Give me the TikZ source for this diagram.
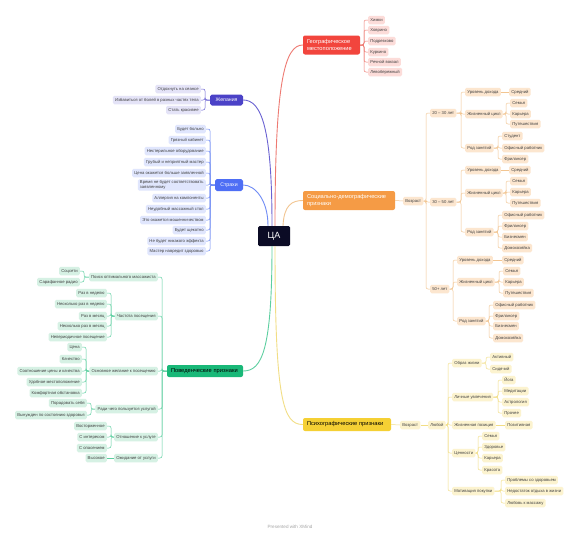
\documentclass[tikz,border=0pt]{standalone}
\usepackage{fontspec}
\setmainfont{Liberation Sans}
\usetikzlibrary{calc}
\definecolor{redM}{HTML}{F2453D}\definecolor{redL}{HTML}{FCDCD9}\definecolor{redC}{HTML}{EE7A72}
\definecolor{indM}{HTML}{4B42C7}\definecolor{indL}{HTML}{E4E3F7}\definecolor{indC}{HTML}{6A62D2}
\definecolor{bluM}{HTML}{4E6EF5}\definecolor{bluL}{HTML}{E0E6FD}\definecolor{bluC}{HTML}{6F8BF5}
\definecolor{oraM}{HTML}{F59B45}\definecolor{oraL}{HTML}{FCE6CF}\definecolor{oraC}{HTML}{F2C591}
\definecolor{grnM}{HTML}{19B878}\definecolor{grnL}{HTML}{D6F1E4}\definecolor{grnC}{HTML}{5DCFA0}
\definecolor{yelM}{HTML}{F5D034}\definecolor{yelL}{HTML}{FCF3CF}\definecolor{yelC}{HTML}{F2DE85}
\definecolor{caM}{HTML}{0B0B25}
\begin{document}
\begin{tikzpicture}[x=1pt,y=-1pt,
  leaf/.style={rounded corners=1.5pt, inner xsep=2.2pt, inner ysep=0pt, minimum height=8.5pt, font=\fontsize{4.2}{5}\selectfont, text=black!75},
  rl/.style={leaf, fill=redL}, il/.style={leaf, fill=indL}, bl/.style={leaf, fill=bluL},
  ol/.style={leaf, fill=oraL}, gl/.style={leaf, fill=grnL}, yl/.style={leaf, fill=yelL},
  mainbox/.style={rounded corners=2pt, font=\fontsize{5.7}{6.9}\selectfont, inner xsep=4pt, inner ysep=0pt, align=left},
  lvl/.style={rounded corners=1.8pt, font=\fontsize{5.2}{6}\selectfont, text=white, inner sep=0pt},
  cn/.style={line width=0.5pt, rounded corners=2pt},
  rc/.style={cn, draw=redC}, ic/.style={cn, draw=indC}, bc/.style={cn, draw=bluC},
  oc/.style={cn, draw=oraC}, gc/.style={cn, draw=grnC}, yc/.style={cn, draw=yelC},
  curve/.style={line width=0.9pt}]
\useasboundingbox[fill=white] (0,0) rectangle (577,541);

% central
\node[fill=caM, text=white, rounded corners=1.5pt, minimum width=32pt, minimum height=20pt, inner sep=0pt, font=\fontsize{9}{10}\selectfont] (ca) at (274,236) {ЦА};

% main branches
\node[mainbox, fill=redM, text=white, text width=49pt, minimum height=19pt] (geo) at (331.5,45) {Географическое\\местоположение};
\node[lvl, fill=indM, minimum width=33pt, minimum height=11pt] (wish) at (226.5,100) {Желания};
\node[lvl, fill=bluM, minimum width=28pt, minimum height=12pt] (fear) at (229,185) {Страхи};
\node[mainbox, fill=oraM, text=white, text width=84pt, minimum height=19pt] (soc) at (349,200.5) {Социально-демографические\\признаки};
\node[mainbox, fill=grnM, text=black, text width=68pt, minimum height=12pt] (beh) at (205,371) {Поведенческие признаки};
\node[mainbox, fill=yelM, text=black, text width=80pt, minimum height=13pt] (psy) at (347,424.5) {Психографические признаки};

% main curves
\draw[curve, draw=redC] ($(ca.north)+(1,0)$) .. controls (275,80) and (285,45) .. (geo.west);
\draw[curve, draw=indC] ($(ca.north)+(-2,0)$) .. controls (272,130) and (262,100) .. (wish.east);
\draw[curve, draw=bluC] ($(ca.north)+(-6,0)$) .. controls (268,200) and (255,185) .. (fear.east);
\draw[curve, draw=oraC] ($(ca.north)+(9,0)$) .. controls (284,205) and (292,200.5) .. (soc.west);
\draw[curve, draw=grnC] ($(ca.south)+(-2,0)$) .. controls (272,350) and (262,371) .. (beh.east);
\draw[curve, draw=yelC] ($(ca.south)+(1,0)$) .. controls (275,400) and (283,424.5) .. (psy.west);

% geographic
\node[rl, anchor=west] (g1) at (368,20) {Химки};
\node[rl, anchor=west] (g2) at (368,30) {Ховрино};
\node[rl, anchor=west] (g3) at (368,41) {Подрезково};
\node[rl, anchor=west] (g4) at (368,52) {Куркино};
\node[rl, anchor=west] (g5) at (368,62) {Речной вокзал};
\node[rl, anchor=west] (g6) at (368,72) {Левобережный};
\foreach \c in {g1,g2,g3,g4,g5,g6} \draw[rc] (geo.east) -| ($(\c.west)+(-4,0)$) -- (\c.west);

% wishes
\node[il, anchor=east] (w1) at (201,89) {Отдохнуть на сеансе};
\node[il, anchor=east] (w2) at (201,100) {Избавиться от болей в разных частях тела};
\node[il, anchor=east] (w3) at (201,110) {Стать красивее};
\foreach \c in {w1,w2,w3} \draw[ic] (wish.west) -| ($(\c.east)+(4,0)$) -- (\c.east);

% fears
\node[bl, anchor=east] (f1) at (206,129) {Будет больно};
\node[bl, anchor=east] (f2) at (206,140) {Грязный кабинет};
\node[bl, anchor=east] (f3) at (206,151) {Нестерильное оборудование};
\node[bl, anchor=east] (f4) at (206,162) {Грубый и неприятный мастер};
\node[bl, anchor=east] (f5) at (206,173) {Цена окажется больше заявленной};
\node[bl, anchor=east, align=left, inner ysep=1.2pt] (f6) at (206,185) {Время не будет соответствовать\\заявленному};
\node[bl, anchor=east] (f7) at (206,198) {Аллергия на компоненты};
\node[bl, anchor=east] (f8) at (206,209) {Неудобный массажный стол};
\node[bl, anchor=east] (f9) at (206,220) {Это окажется мошенничеством};
\node[bl, anchor=east] (f10) at (206,230) {Будет щекотно};
\node[bl, anchor=east] (f11) at (206,241) {Не будет никакого эффекта};
\node[bl, anchor=east] (f12) at (206,251) {Мастер навредит здоровью};
\foreach \c in {f1,f2,f3,f4,f5,f6,f7,f8,f9,f10,f11,f12} \draw[bc] (fear.west) -| ($(\c.east)+(4,0)$) -- (\c.east);

% social-demographic
\node[ol, anchor=west] (age) at (403,201) {Возраст};
\draw[oc] (soc.east) -- (age.west);
\node[ol, anchor=west] (a1) at (430,113) {20 – 30 лет};
\node[ol, anchor=west] (a2) at (430,202) {30 – 50 лет};
\node[ol, anchor=west] (a3) at (430,289) {50+ лет};
\foreach \c in {a1,a2,a3} \draw[oc] (age.east) -| ($(\c.west)+(-4,0)$) -- (\c.west);

% 20-30
\node[ol, anchor=west] (a1i) at (465,92) {Уровень дохода};
\node[ol, anchor=west] (a1c) at (465,114) {Жизненный цикл};
\node[ol, anchor=west] (a1o) at (465,148) {Род занятий};
\foreach \c in {a1i,a1c,a1o} \draw[oc] (a1.east) -| ($(\c.west)+(-4,0)$) -- (\c.west);
\node[ol, anchor=west] (a1i1) at (509,92) {Средний};
\draw[oc] (a1i.east) -- (a1i1.west);
\node[ol, anchor=west] (a1c1) at (510,103) {Семья};
\node[ol, anchor=west] (a1c2) at (510,114) {Карьера};
\node[ol, anchor=west] (a1c3) at (510,124) {Путешествия};
\foreach \c in {a1c1,a1c2,a1c3} \draw[oc] (a1c.east) -| ($(\c.west)+(-4,0)$) -- (\c.west);
\node[ol, anchor=west] (a1o1) at (502,136) {Студент};
\node[ol, anchor=west] (a1o2) at (502,148) {Офисный работник};
\node[ol, anchor=west] (a1o3) at (502,159) {Фрилансер};
\foreach \c in {a1o1,a1o2,a1o3} \draw[oc] (a1o.east) -| ($(\c.west)+(-4,0)$) -- (\c.west);

% 30-50
\node[ol, anchor=west] (a2i) at (465,170) {Уровень дохода};
\node[ol, anchor=west] (a2c) at (465,193) {Жизненный цикл};
\node[ol, anchor=west] (a2o) at (465,232) {Род занятий};
\foreach \c in {a2i,a2c,a2o} \draw[oc] (a2.east) -| ($(\c.west)+(-4,0)$) -- (\c.west);
\node[ol, anchor=west] (a2i1) at (509,170) {Средний};
\draw[oc] (a2i.east) -- (a2i1.west);
\node[ol, anchor=west] (a2c1) at (510,181) {Семья};
\node[ol, anchor=west] (a2c2) at (510,192) {Карьера};
\node[ol, anchor=west] (a2c3) at (510,203) {Путешествия};
\foreach \c in {a2c1,a2c2,a2c3} \draw[oc] (a2c.east) -| ($(\c.west)+(-4,0)$) -- (\c.west);
\node[ol, anchor=west] (a2o1) at (502,215) {Офисный работник};
\node[ol, anchor=west] (a2o2) at (502,226) {Фрилансер};
\node[ol, anchor=west] (a2o3) at (502,237) {Бизнесмен};
\node[ol, anchor=west] (a2o4) at (502,248) {Домохозяйка};
\foreach \c in {a2o1,a2o2,a2o3,a2o4} \draw[oc] (a2o.east) -| ($(\c.west)+(-4,0)$) -- (\c.west);

% 50+
\node[ol, anchor=west] (a3i) at (457,260) {Уровень дохода};
\node[ol, anchor=west] (a3c) at (457,282) {Жизненный цикл};
\node[ol, anchor=west] (a3o) at (457,321) {Род занятий};
\foreach \c in {a3i,a3c,a3o} \draw[oc] (a3.east) -| ($(\c.west)+(-4,0)$) -- (\c.west);
\node[ol, anchor=west] (a3i1) at (502,260) {Средний};
\draw[oc] (a3i.east) -- (a3i1.west);
\node[ol, anchor=west] (a3c1) at (503,271) {Семья};
\node[ol, anchor=west] (a3c2) at (503,282) {Карьера};
\node[ol, anchor=west] (a3c3) at (503,293) {Путешествия};
\foreach \c in {a3c1,a3c2,a3c3} \draw[oc] (a3c.east) -| ($(\c.west)+(-4,0)$) -- (\c.west);
\node[ol, anchor=west] (a3o1) at (493,305) {Офисный работник};
\node[ol, anchor=west] (a3o2) at (493,316) {Фрилансер};
\node[ol, anchor=west] (a3o3) at (493,326) {Бизнесмен};
\node[ol, anchor=west] (a3o4) at (493,338) {Домохозяйка};
\foreach \c in {a3o1,a3o2,a3o3,a3o4} \draw[oc] (a3o.east) -| ($(\c.west)+(-4,0)$) -- (\c.west);

% behavioural
\node[gl, anchor=east] (b1) at (158,277) {Поиск оптимального массажиста};
\node[gl, anchor=east] (b2) at (158,316) {Частота посещения};
\node[gl, anchor=east] (b3) at (158,371) {Основное желание к посещению};
\node[gl, anchor=east] (b4) at (158,409) {Ради чего пользуется услугой};
\node[gl, anchor=east] (b5) at (158,437) {Отношение к услуге};
\node[gl, anchor=east] (b6) at (158,458) {Ожидание от услуги};
\foreach \c in {b1,b2,b3,b4,b5,b6} \draw[gc] (beh.west) -| ($(\c.east)+(4,0)$) -- (\c.east);

\node[gl, anchor=east] (b11) at (80,271) {Соцсети};
\node[gl, anchor=east] (b12) at (80,282) {Сарафанное радио};
\foreach \c in {b11,b12} \draw[gc] (b1.west) -| ($(\c.east)+(4,0)$) -- (\c.east);

\node[gl, anchor=east] (b21) at (107,293) {Раз в неделю};
\node[gl, anchor=east] (b22) at (107,304) {Несколько раз в неделю};
\node[gl, anchor=east] (b23) at (107,316) {Раз в месяц};
\node[gl, anchor=east] (b24) at (107,326) {Несколько раз в месяц};
\node[gl, anchor=east] (b25) at (107,337) {Непериодичное посещение};
\foreach \c in {b21,b22,b23,b24,b25} \draw[gc] (b2.west) -| ($(\c.east)+(4,0)$) -- (\c.east);

\node[gl, anchor=east] (b31) at (82,347) {Цена};
\node[gl, anchor=east] (b32) at (82,359) {Качество};
\node[gl, anchor=east] (b33) at (82,371) {Соотношение цены и качества};
\node[gl, anchor=east] (b34) at (82,382) {Удобное местоположение};
\node[gl, anchor=east] (b35) at (82,393) {Комфортная обстановка};
\foreach \c in {b31,b32,b33,b34,b35} \draw[gc] (b3.west) -| ($(\c.east)+(4,0)$) -- (\c.east);

\node[gl, anchor=east] (b41) at (87,403) {Порадовать себя};
\node[gl, anchor=east] (b42) at (87,415) {Вынужден по состоянию здоровья};
\foreach \c in {b41,b42} \draw[gc] (b4.west) -| ($(\c.east)+(4,0)$) -- (\c.east);

\node[gl, anchor=east] (b51) at (107,426) {Восторженное};
\node[gl, anchor=east] (b52) at (107,437) {С интересом};
\node[gl, anchor=east] (b53) at (107,448) {С опасением};
\foreach \c in {b51,b52,b53} \draw[gc] (b5.west) -| ($(\c.east)+(4,0)$) -- (\c.east);

\node[gl, anchor=east] (b61) at (107,458) {Высокое};
\draw[gc] (b6.west) -- (b61.east);

% psychographic
\node[yl, anchor=west] (pv) at (400,425) {Возраст};
\node[yl, anchor=west] (pany) at (428,425) {Любой};
\draw[yc] (psy.east) -- (pv.west);
\draw[yc] (pv.east) -- (pany.west);
\node[yl, anchor=west] (p1) at (452,363) {Образ жизни};
\node[yl, anchor=west] (p2) at (452,397) {Личные увлечения};
\node[yl, anchor=west] (p3) at (452,425) {Жизненная позиция};
\node[yl, anchor=west] (p4) at (452,453) {Ценности};
\node[yl, anchor=west] (p5) at (452,491) {Мотивация покупки};
\foreach \c in {p1,p2,p3,p4,p5} \draw[yc] (pany.east) -| ($(\c.west)+(-4,0)$) -- (\c.west);

\node[yl, anchor=west] (p11) at (490,357) {Активный};
\node[yl, anchor=west] (p12) at (490,369) {Сидячий};
\foreach \c in {p11,p12} \draw[yc] (p1.east) -| ($(\c.west)+(-4,0)$) -- (\c.west);

\node[yl, anchor=west] (p21) at (502,380) {Йога};
\node[yl, anchor=west] (p22) at (502,391) {Медитации};
\node[yl, anchor=west] (p23) at (502,402) {Астрология};
\node[yl, anchor=west] (p24) at (502,413) {Прочее};
\foreach \c in {p21,p22,p23,p24} \draw[yc] (p2.east) -| ($(\c.west)+(-4,0)$) -- (\c.west);

\node[yl, anchor=west] (p31) at (505,425) {Позитивная};
\draw[yc] (p3.east) -- (p31.west);

\node[yl, anchor=west] (p41) at (482,436) {Семья};
\node[yl, anchor=west] (p42) at (482,447) {Здоровье};
\node[yl, anchor=west] (p43) at (482,458) {Карьера};
\node[yl, anchor=west] (p44) at (482,470) {Красота};
\foreach \c in {p41,p42,p43,p44} \draw[yc] (p4.east) -| ($(\c.west)+(-4,0)$) -- (\c.west);

\node[yl, anchor=west] (p51) at (505,480) {Проблемы со здоровьем};
\node[yl, anchor=west] (p52) at (505,491) {Недостаток отдыха в жизни};
\node[yl, anchor=west] (p53) at (505,503) {Любовь к массажу};
\foreach \c in {p51,p52,p53} \draw[yc] (p5.east) -| ($(\c.west)+(-4,0)$) -- (\c.west);

\node[text=black!35, font=\fontsize{4.6}{5}\selectfont, inner sep=0pt] (credit) at (290,527) {Presented with XMind};
\end{tikzpicture}
\end{document}
